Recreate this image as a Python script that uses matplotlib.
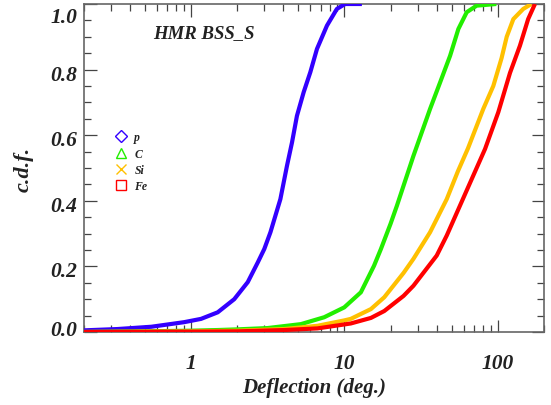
import matplotlib
matplotlib.use("Agg")
import matplotlib.pyplot as plt
from matplotlib.lines import Line2D
from matplotlib.ticker import MultipleLocator, NullFormatter, LogLocator
from matplotlib.transforms import ScaledTranslation

# ---- data ----
p_x = [0.2, 0.33, 0.55, 0.9, 1.16, 1.49, 1.91, 2.34, 2.72, 3.0, 3.29, 3.82, 4.22, 4.55, 4.9, 5.42, 5.99, 6.62, 7.69, 8.93, 10.1, 13.0]
p_y = [0.005, 0.009, 0.016, 0.03, 0.04, 0.06, 0.10, 0.152, 0.212, 0.253, 0.304, 0.405, 0.507, 0.578, 0.659, 0.731, 0.792, 0.863, 0.934, 0.985, 1.0, 1.0]

c_x = [0.2, 0.5, 1.0, 1.49, 2.0, 3.15, 5.2, 7.38, 9.97, 12.8, 15.6, 17.3, 20, 22, 28.2, 36.2, 42.1, 48.9, 55.4, 62.8, 72.9, 98]
c_y = [0.0, 0.002, 0.004, 0.006, 0.008, 0.012, 0.024, 0.045, 0.075, 0.121, 0.202, 0.253, 0.33, 0.385, 0.537, 0.68, 0.761, 0.842, 0.924, 0.975, 0.995, 1.0]

si_x = [0.2, 1.0, 2.0, 4.05, 6.68, 9.9, 11.0, 14.9, 18.2, 24.3, 28.2, 36.2, 46.5, 55, 64, 80.5, 93.6, 106, 114.5, 126.5, 146.8, 166]
si_y = [0.0, 0.002, 0.004, 0.009, 0.019, 0.035, 0.04, 0.07, 0.106, 0.18, 0.223, 0.304, 0.405, 0.49, 0.56, 0.68, 0.75, 0.835, 0.90, 0.954, 0.985, 1.0]

fe_x = [0.2, 1.0, 2.0, 4.05, 6.68, 11.0, 14.9, 18.2, 24.3, 28.2, 40, 46.5, 69.3, 82.7, 100.9, 120.3, 139.7, 158, 175]
fe_y = [0.0, 0.001, 0.002, 0.006, 0.011, 0.026, 0.043, 0.064, 0.11, 0.141, 0.233, 0.294, 0.477, 0.558, 0.67, 0.79, 0.873, 0.954, 1.0]

labels = ["p", "C", "Si", "Fe"]
colors = ["#3300ff", "#22ee00", "#ffc000", "#ff0000"]
markers = ["D", "^", "x", "s"]
title_text = "HMR BSS_S"
xlabel = "Deflection (deg.)"
ylabel = "c.d.f."
xticks = [1, 10, 100]
xticklabels = ["1", "10", "100"]
yticks = [0.0, 0.2, 0.4, 0.6, 0.8, 1.0]
yticklabels = ["0.0", "0.2", "0.4", "0.6", "0.8", "1.0"]

FONT = "Liberation Serif"
fp = dict(family=FONT, weight="bold", style="italic")
TXT = "#222222"

fig = plt.figure(figsize=(5.51, 4.06), dpi=100)
ax = fig.add_axes([0.1525, 0.1798, 0.8345, 0.8079])

for xs, ys, col in zip([p_x, c_x, si_x, fe_x], [p_y, c_y, si_y, fe_y], colors):
    ax.plot(xs, ys, color=col, lw=3.0, solid_capstyle="butt", solid_joinstyle="round", zorder=3)

ax.set_xscale("log")
ax.set_xlim(0.2, 200)
ax.set_ylim(0.0, 1.0)

ax.set_xticks(xticks)
ax.set_xticklabels(xticklabels, **fp, fontsize=15.5, color=TXT)
ax.xaxis.set_minor_locator(LogLocator(base=10, subs=range(2, 10)))
ax.xaxis.set_minor_formatter(NullFormatter())
ax.set_yticks(yticks)
ax.set_yticklabels(yticklabels, **fp, fontsize=15.5, color=TXT)
ax.yaxis.set_minor_locator(MultipleLocator(0.05))

ax.tick_params(which="both", direction="in", top=True, right=True, color="#444444", width=0.9)
ax.tick_params(which="major", length=9)
ax.tick_params(which="minor", length=5)
ax.tick_params(axis="x", which="major", pad=15)
ax.tick_params(axis="y", which="major", pad=5)
for s in ax.spines.values():
    s.set_color("#666666")
    s.set_linewidth(1.2)

# shift y tick labels like the reference (1.0 pushed inside, 0.0 lifted)
offsets_px = {0: 5, 5: -11}
for i, lab in enumerate(ax.get_yticklabels()):
    dy = offsets_px.get(i, -2.5)
    lab.set_transform(lab.get_transform() + ScaledTranslation(0, dy / 100.0, fig.dpi_scale_trans))

ax.set_xlabel(xlabel, **fp, fontsize=15, color=TXT, labelpad=3)
ax.set_ylabel(ylabel, **fp, fontsize=16, color=TXT, labelpad=12)

ax.text(0.15, 0.912, title_text, transform=ax.transAxes, **fp, fontsize=13.5,
        color=TXT, va="center", ha="left")

handles = []
for lab, col, mk in zip(labels, colors, markers):
    handles.append(Line2D([], [], linestyle="none", marker=mk, markersize=7 if mk != "D" else 6,
                          markerfacecolor="none", markeredgecolor=col, markeredgewidth=1.0, label=lab))
leg = ax.legend(handles=handles, loc="upper left", bbox_to_anchor=(0.058, 0.626), frameon=False,
                prop=dict(family=FONT, weight="bold", style="italic", size=8.5),
                handlelength=1.0, handletextpad=0.6, labelspacing=0.36, borderaxespad=0)
for t in leg.get_texts():
    t.set_color(TXT)

fig.savefig("out.png", dpi=100)
